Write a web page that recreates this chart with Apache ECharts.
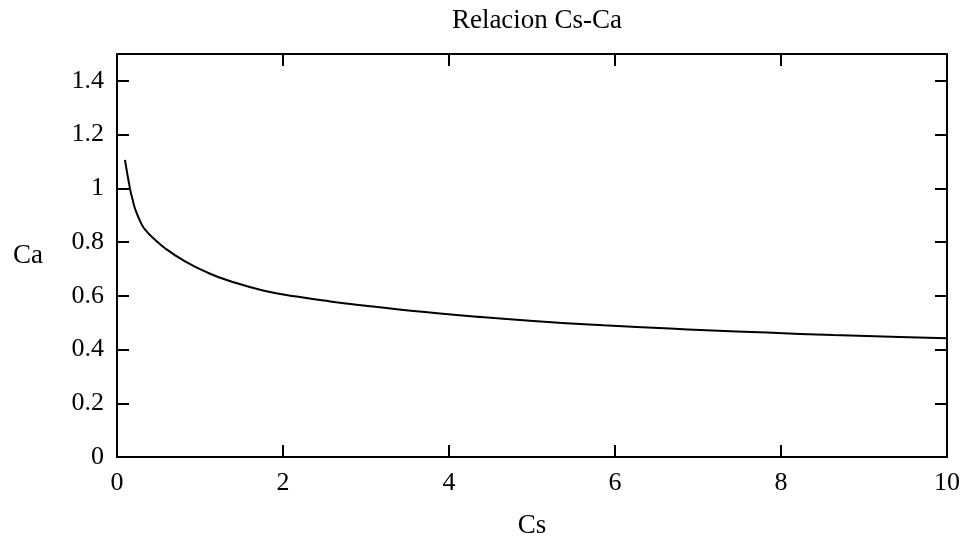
<!DOCTYPE html>
<html>
<head>
<meta charset="utf-8">
<script src="https://cdn.jsdelivr.net/npm/echarts@6/dist/echarts.min.js"></script>
<style>
  html, body { margin: 0; padding: 0; background: #fff; }
  #chart { width: 963px; height: 544px; }
</style>
</head>
<body>
<div id="chart"></div>
<script>
// Cs values along the curve
const csValues = [0.096, 0.157, 0.185, 0.217, 0.297, 0.357, 0.418, 0.578, 0.82, 1.1, 1.36, 1.76,
  2.165, 2.57, 2.97, 3.37, 3.77, 4.3, 5.06, 5.86, 6.66, 7.1, 7.83, 8.63, 9.43, 10];
// matching Ca values
const caValues = [1.106, 0.998, 0.962, 0.925, 0.866, 0.840, 0.820, 0.777, 0.728, 0.685, 0.655, 0.620,
  0.597, 0.579, 0.564, 0.550, 0.538, 0.523, 0.505, 0.490, 0.478, 0.472, 0.463, 0.454, 0.447, 0.442];

const xTicks = [0, 2, 4, 6, 8, 10];
const yTicks = [0, 0.2, 0.4, 0.6, 0.8, 1, 1.2, 1.4];

const FONT = 'Liberation Serif';
const points = csValues.map((c, i) => [c, caValues[i]]);

const frameLine = { show: true, onZero: false, lineStyle: { color: '#000', width: 2 } };
const innerTick = { show: true, inside: true, length: 12, lineStyle: { color: '#000', width: 2 } };

const chart = echarts.init(document.getElementById('chart'), null, { renderer: 'canvas' });
chart.setOption({
  animation: false,
  backgroundColor: '#fff',
  title: {
    text: 'Relacion Cs-Ca',
    left: 532, top: 2, textAlign: 'center',
    textStyle: { fontFamily: FONT, fontWeight: 'normal', fontSize: 27, color: '#000' }
  },
  grid: { left: 117, right: 16, top: 54, bottom: 83 },
  xAxis: [
    {
      type: 'value', min: 0, max: 10, interval: 2, position: 'bottom',
      name: 'Cs', nameLocation: 'middle', nameGap: 55,
      nameTextStyle: { fontFamily: FONT, fontSize: 27, color: '#000' },
      axisLine: frameLine, axisTick: innerTick,
      axisLabel: {
        fontFamily: FONT, fontSize: 26, color: '#000', margin: 13,
        formatter: v => (xTicks.includes(v) ? String(v) : '')
      },
      splitLine: { show: false }
    },
    {
      type: 'value', min: 0, max: 10, interval: 2, position: 'top',
      axisLine: frameLine, axisTick: innerTick,
      axisLabel: { show: false }, splitLine: { show: false }
    }
  ],
  yAxis: [
    {
      type: 'value', min: 0, max: 1.5, interval: 0.2, position: 'left',
      name: 'Ca', nameLocation: 'middle', nameRotate: 0, nameGap: 74,
      nameTextStyle: { fontFamily: FONT, fontSize: 27, color: '#000' },
      axisLine: frameLine, axisTick: innerTick,
      axisLabel: {
        fontFamily: FONT, fontSize: 26, color: '#000', margin: 13,
        formatter: v => (yTicks.some(t => Math.abs(t - v) < 1e-9) ? String(+v.toFixed(1)) : '')
      },
      splitLine: { show: false }
    },
    {
      type: 'value', min: 0, max: 1.5, interval: 0.2, position: 'right',
      axisLine: frameLine, axisTick: innerTick,
      axisLabel: { show: false }, splitLine: { show: false }
    }
  ],
  series: [{
    type: 'line',
    data: points,
    smooth: 0.5,
    showSymbol: false,
    lineStyle: { color: '#000', width: 2 }
  }]
});
</script>
</body>
</html>
